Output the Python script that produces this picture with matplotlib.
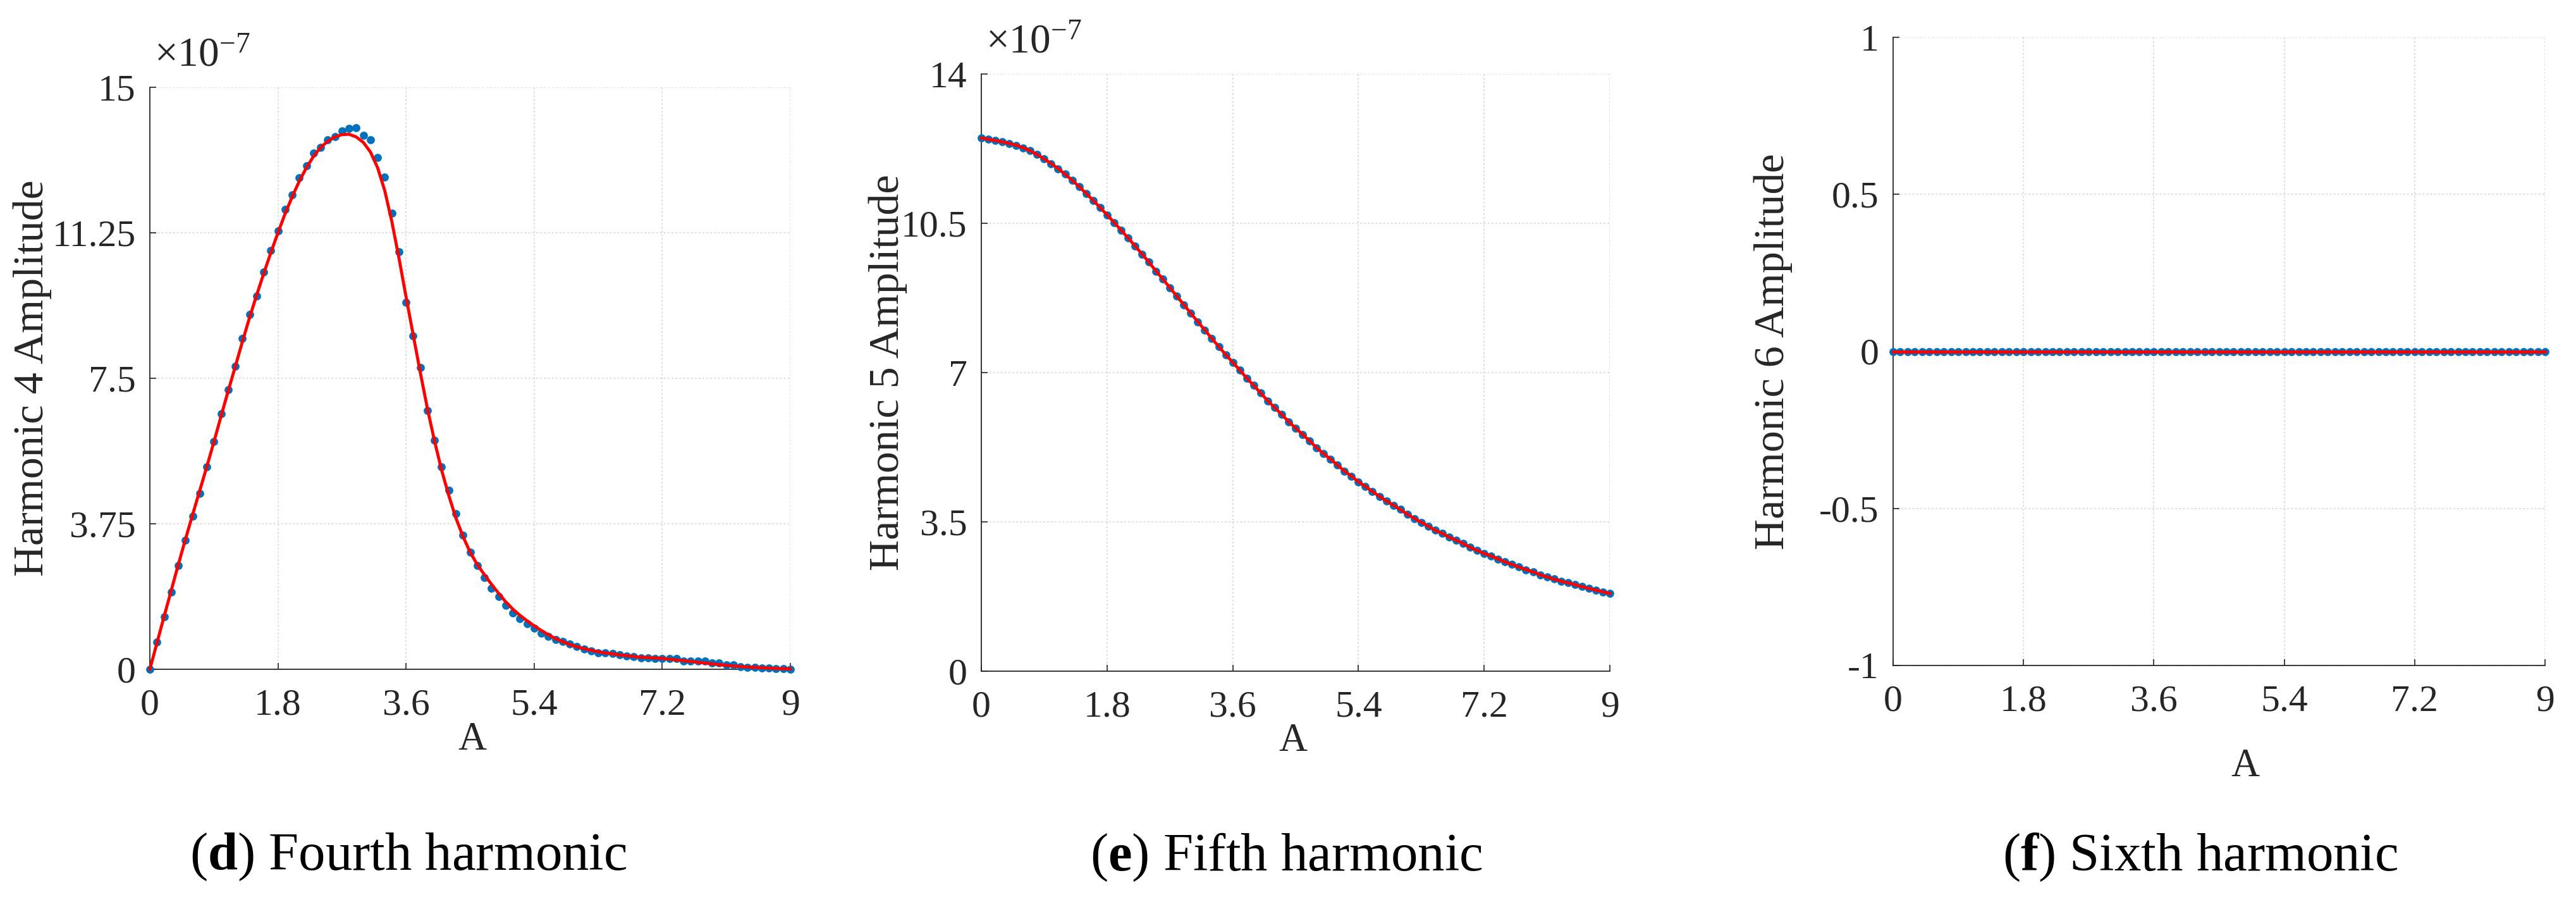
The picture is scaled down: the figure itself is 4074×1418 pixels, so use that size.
import matplotlib
matplotlib.use("Agg")
import matplotlib.pyplot as plt
import numpy as np

# ---------------- data (amplitudes in units of 1e-7) ----------------
A = np.round(np.arange(91) * 0.1, 1)

h4_points = [0.00, 0.70, 1.36, 1.99, 2.68, 3.32, 3.95, 4.53, 5.21, 5.87,
             6.59, 7.21, 7.81, 8.53, 9.14, 9.62, 10.24, 10.80, 11.30, 11.86,
             12.23, 12.67, 12.98, 13.30, 13.45, 13.64, 13.73, 13.87, 13.94, 13.96,
             13.76, 13.65, 13.19, 12.69, 11.75, 10.76, 9.45, 8.59, 7.77, 6.67,
             5.90, 5.21, 4.62, 4.01, 3.45, 3.01, 2.67, 2.37, 2.08, 1.88,
             1.64, 1.45, 1.31, 1.17, 1.06, 0.93, 0.85, 0.77, 0.72, 0.65,
             0.59, 0.52, 0.47, 0.43, 0.42, 0.40, 0.38, 0.34, 0.32, 0.30,
             0.29, 0.28, 0.28, 0.28, 0.27, 0.22, 0.21, 0.21, 0.22, 0.16,
             0.16, 0.11, 0.12, 0.06, 0.05, 0.05, 0.04, 0.03, 0.02, 0.02,
             0.00]

h4_fit = [0.00, 0.68, 1.36, 2.03, 2.70, 3.35, 3.98, 4.60, 5.22, 5.86,
          6.52, 7.17, 7.80, 8.44, 9.06, 9.64, 10.20, 10.74, 11.25, 11.74,
          12.18, 12.58, 12.93, 13.22, 13.45, 13.61, 13.72, 13.78, 13.79, 13.72,
          13.58, 13.33, 12.93, 12.34, 11.54, 10.60, 9.60, 8.62, 7.65, 6.72,
          5.88, 5.13, 4.48, 3.90, 3.42, 3.02, 2.70, 2.44, 2.19, 1.96,
          1.74, 1.55, 1.39, 1.25, 1.12, 1.00, 0.89, 0.79, 0.71, 0.64,
          0.58, 0.53, 0.49, 0.45, 0.42, 0.40, 0.37, 0.35, 0.33, 0.31,
          0.30, 0.29, 0.28, 0.26, 0.24, 0.22, 0.20, 0.18, 0.16, 0.14,
          0.12, 0.10, 0.085, 0.07, 0.06, 0.05, 0.04, 0.03, 0.02, 0.015,
          0.01]

h5_points = [12.50, 12.47, 12.44, 12.41, 12.37, 12.33, 12.27, 12.20, 12.11, 12.01,
             11.90, 11.78, 11.65, 11.51, 11.36, 11.20, 11.04, 10.87, 10.70, 10.52,
             10.34, 10.16, 9.97, 9.78, 9.59, 9.38, 9.19, 8.99, 8.79, 8.59,
             8.39, 8.19, 8.00, 7.80, 7.61, 7.42, 7.24, 7.06, 6.87, 6.70,
             6.52, 6.34, 6.18, 6.02, 5.85, 5.70, 5.55, 5.40, 5.24, 5.10,
             4.97, 4.83, 4.69, 4.57, 4.44, 4.33, 4.21, 4.10, 3.99, 3.89,
             3.79, 3.68, 3.58, 3.49, 3.40, 3.30, 3.23, 3.14, 3.07, 2.99,
             2.90, 2.83, 2.76, 2.70, 2.63, 2.56, 2.50, 2.44, 2.38, 2.33,
             2.26, 2.21, 2.16, 2.11, 2.07, 2.03, 1.98, 1.94, 1.90, 1.86,
             1.82]
h5_fit = list(h5_points)

h6_points = [0.0] * 91
h6_fit = [0.0] * 91

x_ticks = [0, 1.8, 3.6, 5.4, 7.2, 9]
x_ticklabels = ["0", "1.8", "3.6", "5.4", "7.2", "9"]
d_yticks = [0, 3.75, 7.5, 11.25, 15]
d_yticklabels = ["0", "3.75", "7.5", "11.25", "15"]
e_yticks = [0, 3.5, 7, 10.5, 14]
e_yticklabels = ["0", "3.5", "7", "10.5", "14"]
f_yticks = [-1, -0.5, 0, 0.5, 1]
f_yticklabels = ["-1", "-0.5", "0", "0.5", "1"]

ylabels = ["Harmonic 4 Amplitude", "Harmonic 5 Amplitude", "Harmonic 6 Amplitude"]
captions = [("d", "Fourth harmonic"), ("e", "Fifth harmonic"), ("f", "Sixth harmonic")]

# ---------------- styling ----------------
plt.rcParams['font.family'] = ['Liberation Serif', 'DejaVu Serif']
plt.rcParams['mathtext.fontset'] = 'custom'
plt.rcParams['mathtext.rm'] = 'Liberation Serif'
plt.rcParams['mathtext.it'] = 'Liberation Serif:italic'
plt.rcParams['mathtext.bf'] = 'Liberation Serif:bold'

W, H = 4074, 1418
fig = plt.figure(figsize=(W / 100, H / 100), dpi=100)

def px_axes(l, t, r, b):
    return fig.add_axes([l / W, 1 - b / H, (r - l) / W, (b - t) / H])

BLUE = '#0072BD'
AXC = '#262626'
TICK_FS = 43

panels = [
    dict(box=(237, 138, 1250, 1058), pts=h4_points, fit=h4_fit, ylim=(0, 15),
         yt=d_yticks, ytl=d_yticklabels, mult=True,
         ylab_xy=(-0.183, 0.5), xlab_xy=(0.503, -0.122)),
    dict(box=(1552, 117, 2546, 1061), pts=h5_points, fit=h5_fit, ylim=(0, 14),
         yt=e_yticks, ytl=e_yticklabels, mult=True,
         ylab_xy=(-0.149, 0.5), xlab_xy=(0.496, -0.118)),
    dict(box=(2994, 59, 4025, 1052), pts=h6_points, fit=h6_fit, ylim=(-1, 1),
         yt=f_yticks, ytl=f_yticklabels, mult=False,
         ylab_xy=(-0.184, 0.5), xlab_xy=(0.540, -0.161)),
]

for i, p in enumerate(panels):
    ax = px_axes(*p['box'])
    ax.plot(A, p['pts'], 'o', color=BLUE, ms=9.2, mec=BLUE, mew=0,
            zorder=3, clip_on=False)
    ax.plot(A, p['fit'], '-', color='#FF0000', lw=3.5, zorder=4, clip_on=False)
    ax.set_xlim(0, 9)
    ax.set_ylim(*p['ylim'])
    ax.set_xticks(x_ticks)
    ax.set_xticklabels(x_ticklabels)
    ax.set_yticks(p['yt'])
    ax.set_yticklabels(p['ytl'])
    for s in ['top', 'right']:
        ax.spines[s].set_visible(False)
    for s in ['left', 'bottom']:
        ax.spines[s].set_color(AXC)
        ax.spines[s].set_linewidth(1.3)
    ax.tick_params(direction='in', length=7, width=1.2, colors=AXC,
                   labelsize=TICK_FS, labelcolor=AXC)
    ax.tick_params(axis='y', pad=16)
    ax.tick_params(axis='x', pad=22)
    ax.grid(True, color='#d6d6d6', linestyle=(0, (2, 2)), lw=1.1, zorder=0)
    ax.set_axisbelow(True)
    ax.set_ylabel(ylabels[i], fontsize=TICK_FS + 6, color=AXC, va='center')
    ax.yaxis.set_label_coords(*p['ylab_xy'])
    ax.set_xlabel("A", fontsize=TICK_FS + 2, color=AXC, va='center')
    ax.xaxis.set_label_coords(*p['xlab_xy'])
    if p['mult']:
        ax.text(0.007, 1.022, r'$\times 10^{-7}$', transform=ax.transAxes,
                fontsize=TICK_FS + 4, color=AXC, ha='left', va='bottom')

cap_x = [646, 2034, 3480]
for (letter, text), cx in zip(captions, cap_x):
    fig.text(cx / W, 1 - 1355 / H, r'($\mathbf{' + letter + r'}$) ' + text,
             fontsize=61, ha='center', va='center', color='black')

fig.savefig("out.png", dpi=100, facecolor='white')
